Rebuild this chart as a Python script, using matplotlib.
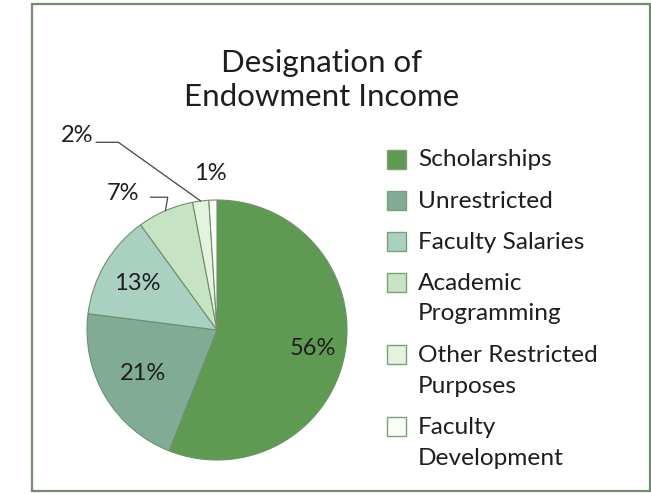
import matplotlib.pyplot as plt
import numpy as np
from matplotlib.patches import Rectangle

# endowment income split
categories = ['Scholarships', 'Unrestricted', 'Faculty Salaries',
              'Academic\nProgramming', 'Other Restricted\nPurposes',
              'Faculty\nDevelopment']
shares = [56, 21, 13, 7, 2, 1]
colors = ['#5f9a53', '#82ab95', '#a9d0c1', '#c6e4c4', '#e3f3dd', '#fbfdf8']

plt.rcParams['font.family'] = ['Lato', 'DejaVu Sans']
txtc = '#1e1e1e'

W, H = 651, 494
fig = plt.figure(figsize=(W / 100, H / 100), dpi=100)

def fx(px):
    return px / W

def fy(py):
    return 1 - py / H

# frame round the whole graphic
fig.patches.append(Rectangle((fx(32), fy(491)), fx(650) - fx(32), fy(4) - fy(491),
                             transform=fig.transFigure, fill=False,
                             edgecolor='#6f8c6d', linewidth=1.6))

fig.text(fx(322), fy(80), 'Designation of\nEndowment Income', ha='center', va='center',
         fontsize=22.5, linespacing=1.3, color=txtc)

# pie: centre (217, 330), radius 130 px
cx, cy, R = 217, 330, 130
ax = fig.add_axes([fx(cx - R), fy(cy + R), 2 * R / W, 2 * R / H])
wedges, _ = ax.pie(shares, colors=colors, startangle=90, counterclock=False,
                   wedgeprops=dict(edgecolor='#6e8f6c', linewidth=0.8))
ax.set_xlim(-1, 1)
ax.set_ylim(-1, 1)
ax.axis('off')

cum = np.cumsum(shares) - np.array(shares) / 2.0
mid = np.deg2rad(90 - cum / 100.0 * 360)

# labels inside the big slices
inside = {0: 0.75, 1: 0.66, 2: 0.71}
for i, d in inside.items():
    ax.text(d * np.cos(mid[i]), d * np.sin(mid[i]), '%d%%' % shares[i],
            ha='center', va='center', fontsize=17, color=txtc)

# small slices labelled outside with leader lines
ax.annotate('%d%%' % shares[3], xy=(np.cos(mid[3]), np.sin(mid[3])),
            xytext=(fx(123), fy(193)), textcoords='figure fraction',
            ha='center', va='center', fontsize=17, color=txtc,
            arrowprops=dict(arrowstyle='-', color='#444444', lw=0.9,
                            relpos=(1.0, 0.3), shrinkA=6, shrinkB=0,
                            connectionstyle='angle,angleA=0,angleB=80,rad=0'))
ax.annotate('%d%%' % shares[4], xy=(np.cos(mid[4]), np.sin(mid[4])),
            xytext=(fx(77), fy(136)), textcoords='figure fraction',
            ha='center', va='center', fontsize=17, color=txtc,
            arrowprops=dict(arrowstyle='-', color='#444444', lw=0.9,
                            relpos=(1.0, 0.2), shrinkA=0, shrinkB=0,
                            connectionstyle='angle,angleA=0,angleB=144.5,rad=0'))
ax.text(fx(210), fy(174), '%d%%' % shares[5], transform=fig.transFigure,
        ha='center', va='center', fontsize=17, color=txtc)

# legend drawn row by row
y = 160
for lab, c in zip(categories, colors):
    fig.patches.append(Rectangle((fx(387), fy(y + 9)), 19 / W, 19 / H,
                                 transform=fig.transFigure, facecolor=c,
                                 edgecolor='#7aa176', linewidth=1.0))
    for k, line in enumerate(lab.split('\n')):
        fig.text(fx(418), fy(y + 31 * k), line, ha='left', va='center',
                 fontsize=17.6, color=txtc)
    y += 41 + 31 * lab.count('\n')

fig.savefig('out.png', dpi=100, facecolor='white')
